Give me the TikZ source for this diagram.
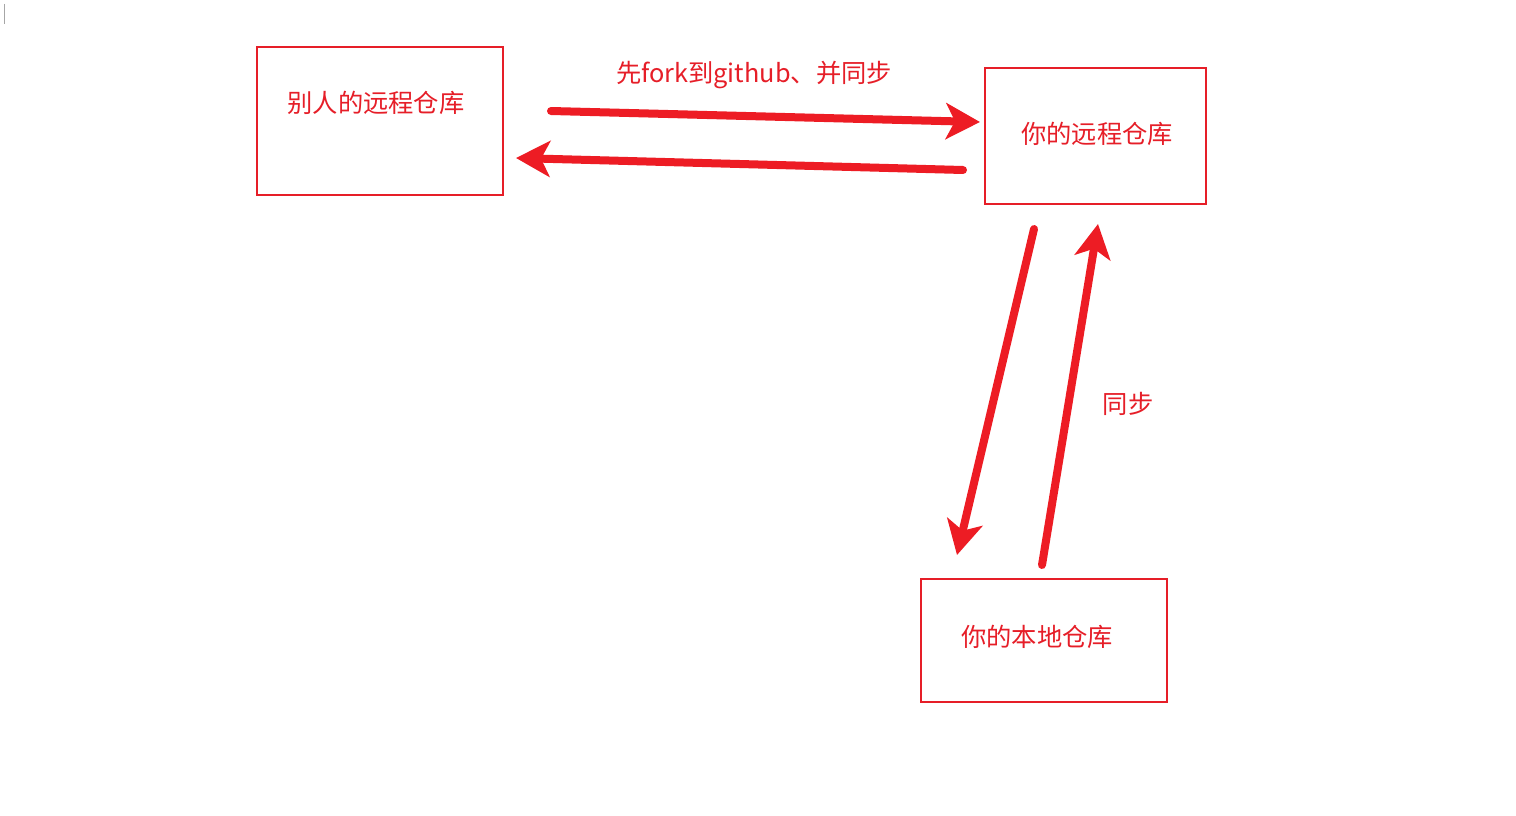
\documentclass[tikz,border=0pt]{standalone}
\usepackage{fontspec}
\setmainfont{Noto Sans CJK SC}
\usetikzlibrary{arrows.meta}
\definecolor{myred}{RGB}{237,28,36}
\definecolor{boxred}{RGB}{230,30,40}
\tikzset{
  repobox/.style={draw=boxred, line width=2pt, inner sep=0pt, anchor=north west},
  lbl/.style={text=boxred, font=\fontsize{25.3}{29}\selectfont, inner sep=0pt},
  bigarrow/.style={draw=myred, line width=8pt, line cap=round,
    -{Stealth[length=34pt,width=36pt,inset=9pt]}},
}
\begin{document}
\begin{tikzpicture}[x=1pt,y=-1pt]
\useasboundingbox (0,0) rectangle (1516,816);
\fill[white] (0,0) rectangle (1516,816);
\draw[gray!70, line width=1pt] (4,4) -- (4,24);
% boxes
\node[repobox, minimum width=246pt, minimum height=147pt] (other) at (255.5,46.5) {};
\node[repobox, minimum width=221pt, minimum height=135pt] (mine) at (983.5,67.5) {};
\node[repobox, minimum width=246pt, minimum height=123pt] (local) at (919.5,577.5) {};
% texts
\node[lbl] (t1) at (376,103) {别人的远程仓库};
\node[lbl] (t2) at (1097,134) {你的远程仓库};
\node[lbl] (t3) at (1037,637) {你的本地仓库};
\node[lbl] (l1) at (754,75) {先fork到github、并同步};
\node[lbl] (l2) at (1128,404) {同步};
% arrow endpoints
\coordinate (a1s) at (551,111);
\coordinate (a1e) at (980,122);
\coordinate (a2s) at (963,170);
\coordinate (a2e) at (516,158);
\coordinate (a3s) at (1034,229);
\coordinate (a3e) at (957,555);
\coordinate (a4s) at (1042,565);
\coordinate (a4e) at (1098,224);
\draw[bigarrow] (a1s) -- (a1e);
\draw[bigarrow] (a2s) -- (a2e);
\draw[bigarrow] (a3s) -- (a3e);
\draw[bigarrow] (a4s) -- (a4e);
\end{tikzpicture}
\end{document}
